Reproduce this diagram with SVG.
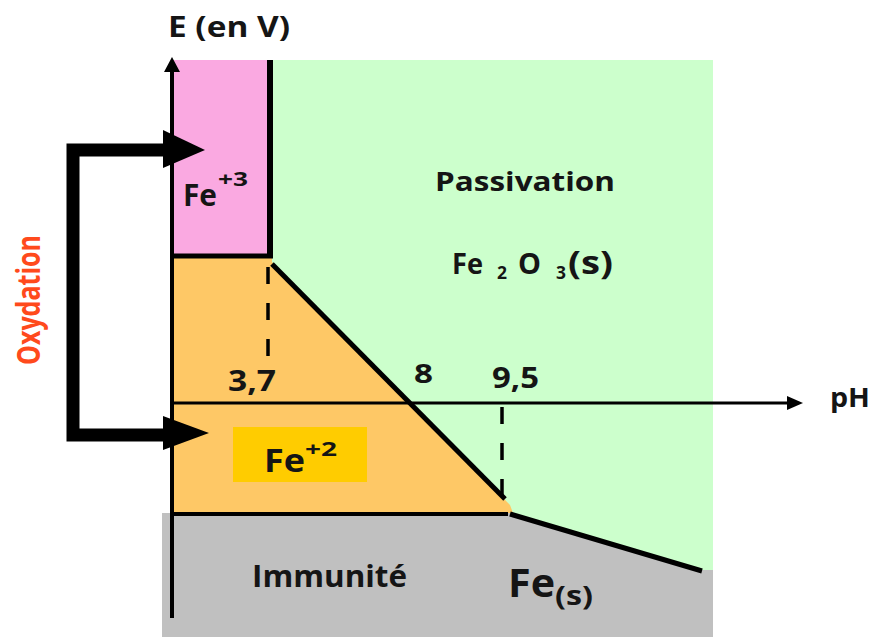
<svg xmlns="http://www.w3.org/2000/svg" width="873" height="637" viewBox="0 0 873 637">
<style>
text{font-family:"Open Sans",Lato,"Liberation Sans",sans-serif;font-weight:bold;fill:#151515}
.ln{stroke:#000;fill:none}
.dash{stroke:#000;stroke-width:3.5;stroke-dasharray:17 19;fill:none}
</style>
<rect width="873" height="637" fill="#fff"/>
<g id="passivation">
<polygon points="270,60 713,60 713,572 270,572" fill="#CCFFCC"/>
<text x="435" y="191" font-size="27" textLength="180" lengthAdjust="spacingAndGlyphs">Passivation</text>
<text x="452" y="274" font-size="29" textLength="31" lengthAdjust="spacingAndGlyphs">Fe</text>
<text x="497" y="279" font-size="18" textLength="10" lengthAdjust="spacingAndGlyphs">2</text>
<text x="518" y="274" font-size="29" textLength="23" lengthAdjust="spacingAndGlyphs">O</text>
<text x="556" y="279" font-size="18" textLength="10" lengthAdjust="spacingAndGlyphs">3</text>
<text x="568" y="274" font-size="33" textLength="45" lengthAdjust="spacingAndGlyphs">(s)</text>
</g>
<g id="fe3">
<rect x="172" y="60" width="98" height="196" fill="#FAA9E1"/>
<text x="183" y="206" font-size="30" textLength="34" lengthAdjust="spacingAndGlyphs">Fe</text>
<text x="218" y="186" font-size="20" textLength="30" lengthAdjust="spacingAndGlyphs">+3</text>
</g>
<g id="fe2">
<polygon points="172,255 272,255 272,262 510,505 513,513 172,513" fill="#FEC866"/>
<rect x="233" y="427" width="134" height="55" fill="#FFCC00"/>
<text x="264" y="472" font-size="33" textLength="41" lengthAdjust="spacingAndGlyphs">Fe</text>
<text x="305" y="456" font-size="19" textLength="32" lengthAdjust="spacingAndGlyphs">+2</text>
</g>
<g id="immunite">
<polygon points="162,513 510,513 517,516 702,570 713,570 713,637 162,637" fill="#C0C0C0"/>
<text x="252" y="587" font-size="30" textLength="155" lengthAdjust="spacingAndGlyphs">Immunité</text>
<text x="508" y="597" font-size="40" textLength="47" lengthAdjust="spacingAndGlyphs">Fe</text>
<text x="555" y="605" font-size="26" textLength="38" lengthAdjust="spacingAndGlyphs">(s)</text>
</g>
<g id="oxydation">
<text transform="translate(40,365) rotate(-90)" font-size="32" textLength="130" lengthAdjust="spacingAndGlyphs" style="fill:#FF4A1C">Oxydation</text>
</g>
<g id="connectors">
<line class="ln" x1="172" y1="70" x2="172" y2="618" stroke-width="4"/>
<polygon points="172,57 164,72 180,72" fill="#000"/>
<line class="ln" x1="172" y1="403" x2="790" y2="403" stroke-width="3"/>
<polygon points="803,403 787,396 787,410" fill="#000"/>
<line class="ln" x1="270" y1="60" x2="270" y2="258" stroke-width="6"/>
<line class="ln" x1="172" y1="256" x2="273" y2="256" stroke-width="5"/>
<line class="ln" x1="272" y1="264" x2="505" y2="499" stroke-width="5"/>
<line class="dash" x1="268" y1="267" x2="268" y2="362"/>
<line class="dash" x1="502" y1="407" x2="502" y2="498"/>
<line class="ln" x1="172" y1="514" x2="508" y2="514" stroke-width="4"/>
<line class="ln" x1="510" y1="514" x2="702" y2="571" stroke-width="5"/>
<path class="ln" d="M165,150 H73 V435 H165" stroke-width="13"/>
<polygon points="163,130 205,150 163,168" fill="#000"/>
<polygon points="163,416 209,433 163,450" fill="#000"/>
</g>
<g id="labels">
<text x="168" y="37" font-size="28" textLength="122" lengthAdjust="spacingAndGlyphs">E (en V)</text>
<text x="228" y="391" font-size="29" textLength="48" lengthAdjust="spacingAndGlyphs">3,7</text>
<text x="414" y="383" font-size="27" textLength="19" lengthAdjust="spacingAndGlyphs">8</text>
<text x="492" y="388" font-size="29" textLength="47" lengthAdjust="spacingAndGlyphs">9,5</text>
<text x="830" y="407" font-size="27" textLength="40" lengthAdjust="spacingAndGlyphs">pH</text>
</g>
</svg>
